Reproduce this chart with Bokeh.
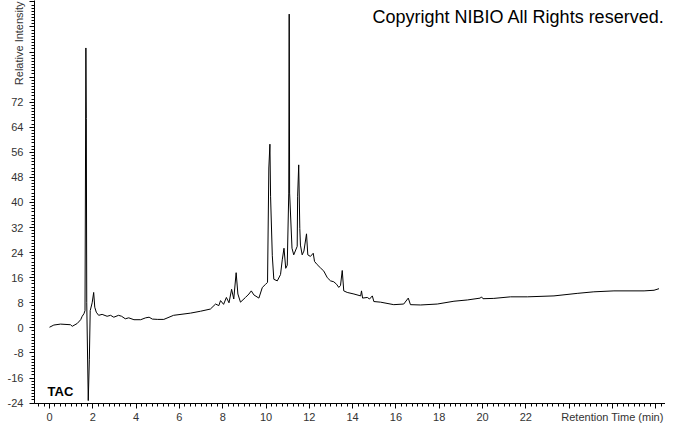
from bokeh.plotting import figure
from bokeh.models import Range1d, FixedTicker, CustomJSTickFormatter, Label
from bokeh.embed import file_html
from bokeh.resources import INLINE

# Retention time (min) and relative intensity
times = [
    0.00, 0.20, 0.51, 0.97, 1.05, 1.28, 1.44, 1.51, 1.59, 1.64,
    1.68, 1.70, 1.72, 1.79, 1.84, 1.88, 1.97, 2.04, 2.09, 2.16,
    2.27, 2.43, 2.66, 2.82, 2.97, 3.19, 3.33, 3.50, 3.66, 3.90,
    4.21, 4.44, 4.60, 4.75, 5.00, 5.28, 5.73, 6.51, 6.97, 7.43,
    7.67, 7.82, 7.90, 8.04, 8.17, 8.29, 8.41, 8.51, 8.62, 8.70,
    8.82, 9.05, 9.21, 9.32, 9.44, 9.67, 9.83, 9.98, 10.07, 10.13,
    10.18, 10.21, 10.29, 10.36, 10.52, 10.67, 10.75, 10.83, 10.91, 10.98,
    11.05, 11.07, 11.09, 11.20, 11.28, 11.44, 11.46, 11.51, 11.56, 11.59,
    11.67, 11.75, 11.87, 11.93, 12.05, 12.18, 12.24, 12.36, 12.52, 12.67,
    12.83, 12.98, 13.13, 13.26, 13.36, 13.44, 13.52, 13.59, 13.75, 14.06,
    14.37, 14.41, 14.46, 14.68, 14.78, 14.91, 14.98, 15.29, 15.90, 16.36,
    16.57, 16.67, 17.14, 17.91, 18.68, 19.30, 19.90, 19.95, 20.02, 20.52,
    21.29, 22.07, 23.30, 24.37, 25.14, 26.07, 27.46, 27.92, 28.15,
]
intensity = [
    0.2, 0.9, 1.2, 1.0, 0.5, 1.4, 2.6, 3.7, 4.5, 5.5,
    89.3, 66.8, 8.0, -23.2, -10.0, 5.5, 8.0, 11.3, 6.6, 5.0,
    4.0, 4.3, 3.7, 4.0, 3.4, 4.0, 3.7, 2.9, 3.2, 2.6,
    2.6, 3.2, 3.4, 2.8, 2.7, 2.7, 4.0, 4.7, 5.3, 6.0,
    7.6, 7.1, 8.7, 7.5, 9.7, 8.0, 12.3, 9.2, 17.6, 10.8,
    8.2, 9.7, 10.8, 11.8, 10.5, 9.5, 12.9, 13.9, 14.5, 51.0,
    58.6, 42.0, 23.0, 15.5, 15.0, 17.0, 21.7, 25.4, 19.0, 20.0,
    43.0, 100.1, 43.0, 25.4, 23.3, 26.0, 42.0, 52.0, 31.7, 26.4,
    23.3, 24.5, 30.0, 23.3, 22.8, 23.8, 21.2, 20.2, 19.1, 18.1,
    16.0, 15.0, 14.7, 13.9, 12.9, 13.5, 18.3, 11.8, 11.3, 10.8,
    10.2, 11.8, 9.5, 9.7, 9.2, 10.2, 8.4, 8.2, 7.4, 7.6,
    9.5, 7.4, 7.3, 7.6, 8.5, 8.9, 9.5, 9.9, 9.3, 9.4,
    9.9, 9.9, 10.2, 11.0, 11.5, 11.8, 11.8, 12.0, 12.5,
]

x_title = "Retention Time (min)"
y_title = "Relative Intensity"
x_title_pos = 26
x_major = [0, 2, 4, 6, 8, 10, 12, 14, 16, 18, 20, 22, 24, 26, 28]
y_major = [-24, -16, -8, 0, 8, 16, 24, 32, 40, 48, 56, 64, 72, 80, 88, 96, 104]
x_minor = [i * 0.25 for i in range(-2, 116)]
y_minor = [float(i) for i in range(-24, 105)]

FONT = "Liberation Sans"

p = figure(width=665, height=425, output_backend="svg", toolbar_location=None,
           x_range=Range1d(-0.693, 28.45), y_range=Range1d(-24.13, 104.44),
           min_border_left=34, min_border_right=0, min_border_top=0,
           min_border_bottom=20, outline_line_color=None,
           background_fill_color="white", border_fill_color="white")
p.grid.visible = False

p.line(times, intensity, line_color="black", line_width=1)

xfmt = CustomJSTickFormatter(
    code="if (Math.abs(tick - %s) < 1e-6) return %r; return tick > 22 ? '' : tick.toFixed(0);"
    % (x_title_pos, x_title))
yfmt = CustomJSTickFormatter(code="return tick > 72 ? '' : tick.toFixed(0);")

for ax, major, minor, fmt in ((p.xaxis[0], x_major, x_minor, xfmt),
                              (p.yaxis[0], y_major, y_minor, yfmt)):
    ax.ticker = FixedTicker(ticks=major, minor_ticks=minor)
    ax.formatter = fmt
    ax.axis_line_color = "black"
    ax.major_tick_line_color = "black"
    ax.minor_tick_line_color = "black"
    ax.major_tick_in = 0
    ax.major_tick_out = 5
    ax.minor_tick_in = 0
    ax.minor_tick_out = 3
    ax.major_label_text_font = FONT
    ax.major_label_text_font_size = "11px"
    ax.major_label_text_color = "#333333"

p.xaxis[0].axis_label = None
p.xaxis[0].major_label_standoff = 2

ya = p.yaxis[0]
ya.major_label_standoff = 6
# the axis centres its title on the top end; trailing no-break spaces
# push the visible words fully below that end
ya.axis_label = y_title + "\u00a0" * 28
ya.axis_label_align = "end"
ya.axis_label_standoff = -20
ya.axis_label_text_font = FONT
ya.axis_label_text_font_size = "11px"
ya.axis_label_text_font_style = "normal"
ya.axis_label_text_color = "#333333"

p.add_layout(Label(x=14.92, y=99.1, text="Copyright NIBIO All Rights reserved.",
                   text_font=FONT, text_font_size="18px", text_color="black",
                   text_align="left", text_baseline="middle"))
p.add_layout(Label(x=-0.09, y=-20.3, text="TAC", text_font=FONT,
                   text_font_size="13px", text_font_style="bold",
                   text_color="black", text_align="left", text_baseline="middle"))

open("out.html", "w").write(file_html(p, INLINE))
